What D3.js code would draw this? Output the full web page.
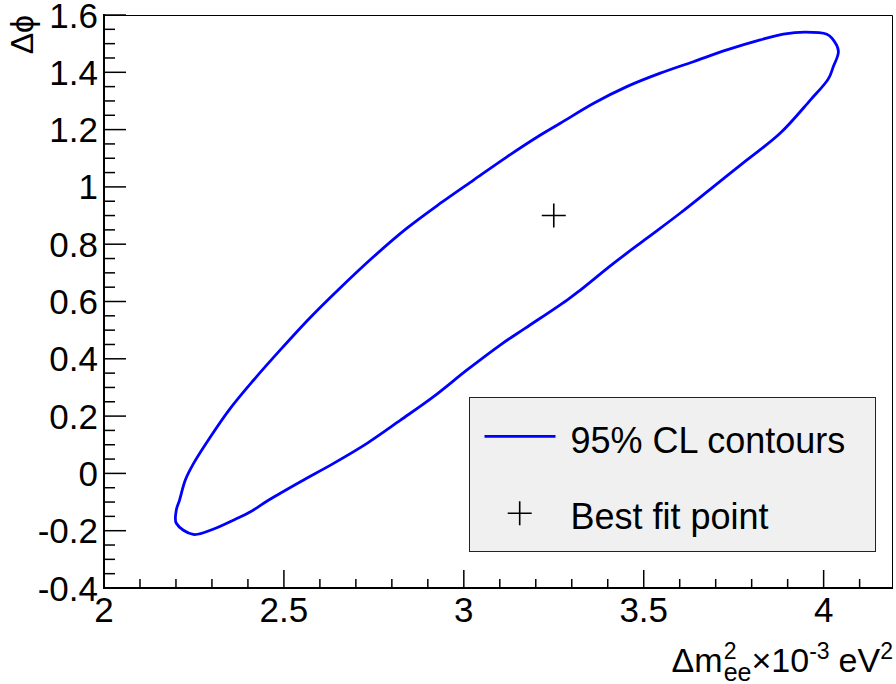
<!DOCTYPE html>
<html>
<head>
<meta charset="utf-8">
<script src="https://cdn.jsdelivr.net/npm/d3@7/dist/d3.min.js"></script>
<style>
  html, body { margin: 0; padding: 0; background: #fff; }
  text { font-family: "Liberation Sans", Arial, Helvetica, sans-serif; fill: #000; }
</style>
</head>
<body>
<svg id="chart" width="896" height="684"></svg>
<script>
// ---- data ----
const contourX = [2.248, 2.303, 2.365, 2.407, 2.458, 2.546, 2.638, 2.731, 2.824, 2.916,
  3.009, 3.101, 3.171, 3.287, 3.324, 3.416, 3.509, 3.601, 3.694, 3.787,
  3.879, 3.963, 4.013, 4.027, 4.041, 4.023, 4.009, 3.949, 3.888, 3.824,
  3.731, 3.638, 3.546, 3.453, 3.361, 3.268, 3.213, 3.120, 3.027, 2.935,
  2.842, 2.749, 2.657, 2.574, 2.490, 2.416, 2.351, 2.296, 2.249, 2.226,
  2.210, 2.201, 2.201];
const contourY = [-0.213, -0.195, -0.160, -0.134, -0.093, -0.029, 0.035, 0.105, 0.186, 0.268,
  0.361, 0.448, 0.507, 0.605, 0.640, 0.733, 0.821, 0.908, 1.001, 1.094,
  1.187, 1.303, 1.377, 1.420, 1.474, 1.519, 1.533, 1.540, 1.533, 1.513,
  1.478, 1.437, 1.397, 1.350, 1.292, 1.222, 1.181, 1.105, 1.024, 0.943,
  0.856, 0.756, 0.648, 0.545, 0.431, 0.326, 0.227, 0.128, 0.035, -0.023,
  -0.093, -0.128, -0.174];
const bestFit = [3.25, 0.90];
const xTickLabels = ["2", "2.5", "3", "3.5", "4"];
const xTickValues = [2, 2.5, 3, 3.5, 4];
const yTickLabels = ["-0.4", "-0.2", "0", "0.2", "0.4", "0.6", "0.8", "1", "1.2", "1.4", "1.6"];
const yTickValues = [-0.4, -0.2, 0, 0.2, 0.4, 0.6, 0.8, 1, 1.2, 1.4, 1.6];
const legendLabels = ["95% CL contours", "Best fit point"];

// ---- layout ----
const svg = d3.select("#chart");
const X0 = 104, X1 = 892, Y0 = 588, Y1 = 15;
const x = d3.scaleLinear().domain([2, 4.19]).range([X0, X1]);
const y = d3.scaleLinear().domain([-0.4, 1.6]).range([Y0, Y1]);
const FS = 35;

svg.append("rect").attr("width", 896).attr("height", 684).attr("fill", "#fff");

// frame (top & right)
svg.append("path")
  .attr("d", `M${X0},${Y1 + 0.5}H${X1 + 0.5}V${Y0}`)
  .attr("fill", "none").attr("stroke", "#000").attr("stroke-width", 1);

// x ticks
const xMinor = d3.range(0, 22).map(i => 2 + i * 0.1).filter(v => v <= 4.19 + 1e-9);
const gx = svg.append("g");
gx.selectAll("line.minor").data(xMinor).enter().append("line")
  .attr("x1", d => x(d)).attr("x2", d => x(d))
  .attr("y1", Y0).attr("y2", (d, i) => (i % 5 === 0) ? Y0 - 18 : Y0 - 9)
  .attr("stroke", "#000").attr("stroke-width", 1.5);
gx.append("line").attr("x1", X0 - 1).attr("x2", X1 + 1).attr("y1", Y0).attr("y2", Y0)
  .attr("stroke", "#000").attr("stroke-width", 2);
gx.selectAll("text").data(xTickValues).enter().append("text")
  .attr("x", d => x(d)).attr("y", 622)
  .attr("text-anchor", "middle").attr("font-size", FS)
  .text((d, i) => xTickLabels[i]);

// y ticks
const yMinor = d3.range(0, 41).map(i => -0.4 + i * 0.05);
const gy = svg.append("g");
gy.selectAll("line").data(yMinor).enter().append("line")
  .attr("x1", X0).attr("x2", (d, i) => (i % 4 === 0) ? X0 + 22 : X0 + 11)
  .attr("y1", d => y(d)).attr("y2", d => y(d))
  .attr("stroke", "#000").attr("stroke-width", 1.5);
gy.append("line").attr("x1", X0).attr("x2", X0).attr("y1", Y1 - 1).attr("y2", Y0 + 1)
  .attr("stroke", "#000").attr("stroke-width", 2);
gy.selectAll("text").data(yTickValues).enter().append("text")
  .attr("x", 98).attr("y", d => y(d) + 12.5)
  .attr("text-anchor", "end").attr("font-size", FS)
  .text((d, i) => yTickLabels[i]);

// y title
svg.append("text")
  .attr("transform", "translate(33,15) rotate(-90)")
  .attr("text-anchor", "end").attr("font-size", 32)
  .text("\u0394\u03d5");

// x title (built piecewise, right aligned)
const gt = svg.append("g");
let cur = 0;
function piece(t, size, dy) {
  const el = gt.append("text").attr("x", cur).attr("y", dy).attr("font-size", size).text(t);
  return el.node().getComputedTextLength();
}
cur += piece("\u0394m", 34, 0);
cur += 1;
const w1 = piece("2", 23, -13);
const w2 = piece("ee", 25, 9);
cur += Math.max(w1, w2);
cur += piece("\u00d710", 34, 0);
cur += piece("-3", 23, -13);
cur += 9;
cur += piece("eV", 34, 0);
cur += piece("2", 23, -13);
gt.attr("transform", `translate(${893 - cur},672)`);

// contour
const pts = contourX.map((v, i) => [x(v), y(contourY[i])]);
svg.append("path")
  .attr("d", d3.line().curve(d3.curveCatmullRomClosed.alpha(0.5))(pts))
  .attr("fill", "none").attr("stroke", "#0000ff").attr("stroke-width", 2.8)
  .attr("stroke-linejoin", "round");

// best fit marker
function cross(g, cx, cy) {
  g.append("path").attr("d", `M${cx - 12},${cy}H${cx + 12}M${cx},${cy - 12}V${cy + 12}`)
    .attr("stroke", "#000").attr("stroke-width", 1.6).attr("fill", "none");
}
cross(svg, x(bestFit[0]), y(bestFit[1]));

// legend
const lg = svg.append("g");
lg.append("rect").attr("x", 469.5).attr("y", 397.5).attr("width", 406).attr("height", 154)
  .attr("fill", "#f0f0f0").attr("stroke", "#222").attr("stroke-width", 1);
lg.append("line").attr("x1", 484.5).attr("x2", 555.5).attr("y1", 436.3).attr("y2", 436.3)
  .attr("stroke", "#0000ff").attr("stroke-width", 2.8);
lg.append("text").attr("x", 570.5).attr("y", 453).attr("font-size", 36).text(legendLabels[0]);
cross(lg, 519.7, 513.3);
lg.append("text").attr("x", 570.5).attr("y", 529).attr("font-size", 36).text(legendLabels[1]);
</script>
</body>
</html>
